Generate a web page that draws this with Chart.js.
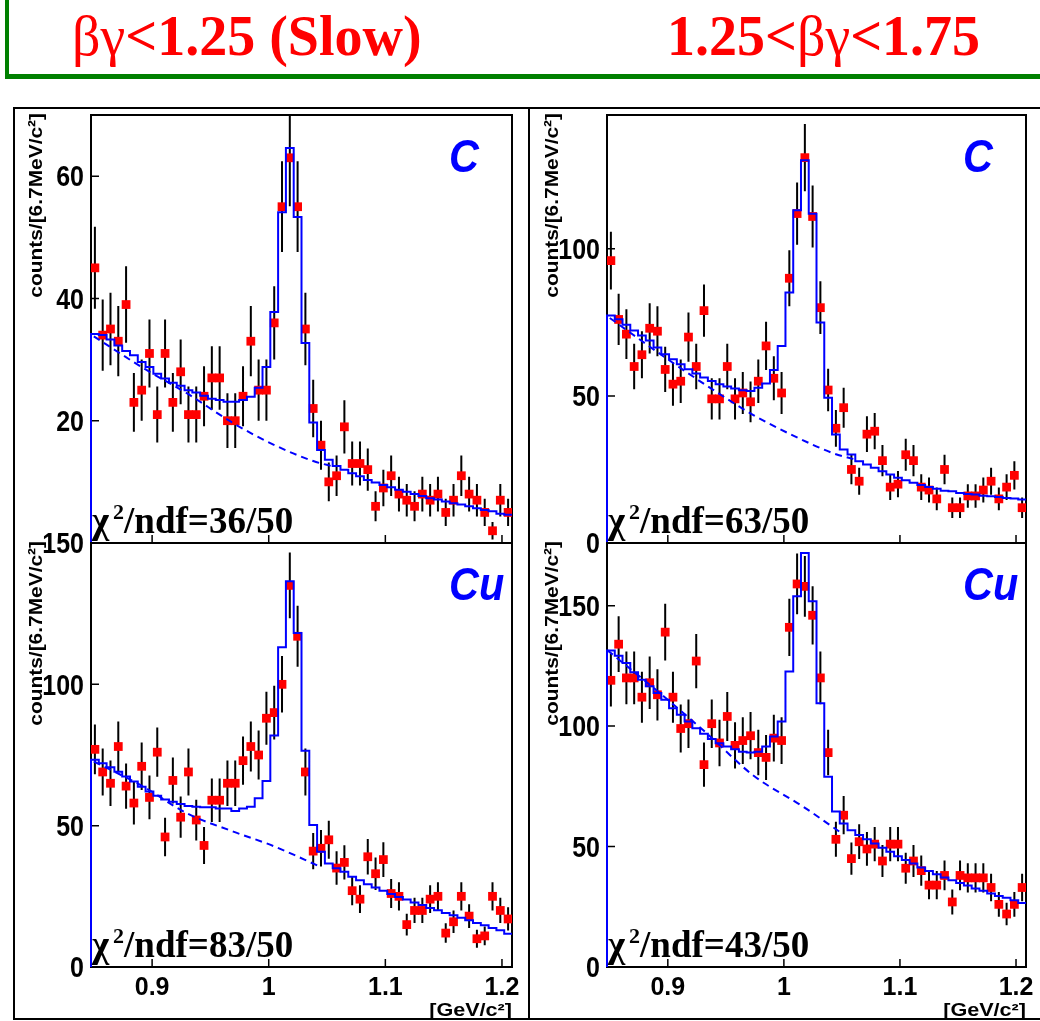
<!DOCTYPE html>
<html>
<head>
<meta charset="utf-8">
<script src="https://cdn.jsdelivr.net/npm/chart.js@4.4.1/dist/chart.umd.min.js"></script>
<style>
  body { margin: 0; width: 1040px; height: 1021px; background: #fff; position: relative; overflow: hidden; }
  canvas { position: absolute; }
  .header { position: absolute; left: 5px; top: -2px; width: 1100px; height: 81px; box-sizing: border-box;
            border: 4px solid #008000; border-top: 2px solid #a9d4a9; border-bottom-width: 5px; }
  .bin-title { position: absolute; top: 8px; font: bold 56px/56px 'Liberation Serif', 'Times New Roman', serif;
               color: #ff0000; white-space: nowrap; }
  .bin-title .sym { font-weight: normal; }
  .frame { position: absolute; left: 13px; top: 107px; width: 1100px; height: 913px; box-sizing: border-box; border: 2px solid #000; }
  .divider { position: absolute; left: 528px; top: 107px; width: 2px; height: 913px; background: #000; }
</style>
</head>
<body>
<div class="header"></div>
<div class="bin-title" style="left:72px"><span class="sym">βγ</span>&lt;1.25 (Slow)</div>
<div class="bin-title" style="left:667px">1.25&lt;<span class="sym">βγ</span>&lt;1.75</div>

<canvas id="padSlowC" width="514" height="450" style="left:14px; top:108px"></canvas>
<canvas id="padMidC" width="510" height="450" style="left:530px; top:108px"></canvas>
<canvas id="padSlowCu" width="514" height="500" style="left:14px; top:520px"></canvas>
<canvas id="padMidCu" width="510" height="500" style="left:530px; top:520px"></canvas>

<div class="frame"></div>
<div class="divider"></div>

<script>
// K+K- invariant mass, 54 bins of 6.7 MeV/c^2
const X_MIN = 0.8476, X_MAX = 1.2086, N_BINS = 54;
const BIN_W = (X_MAX - X_MIN) / N_BINS;
const binEdges = Array.from({length: N_BINS + 1}, (_, k) => X_MIN + k * BIN_W);
const binCenters = binEdges.slice(0, N_BINS).map(e => e + BIN_W / 2);

const xTicks = [0.9, 1, 1.1, 1.2];
const xTickLabels = ['0.9', '1', '1.1', '1.2'];

// bg < 1.25, carbon target
const countsSlowC = [45, 34, 35, 33, 39, 23, 25, 31, 21, 31, 23, 28, 21, 21, 24, 27, 27, 20, 20, 24,
  33, 25, 25, 36, 55, 63, 55, 35, 22, 16, 10, 11, 19, 13, 13, 12, 6, 9, 11, 8,
  7, 6, 8, 7, 8, 5, 7, 11, 8, 7, 5, 2, 7, 5];
const fitSlowC = [34.2, 34.0, 33.3, 32.3, 31.4, 30.7, 29.6, 28.8, 27.7, 26.9, 26.2, 25.7, 25.0, 24.6, 24.1, 23.6, 23.4, 23.1, 23.1, 23.4,
  23.9, 25.4, 28.8, 37.8, 54.1, 64.6, 53.3, 32.7, 19.7, 15.2, 13.6, 12.6, 12.0, 11.4, 10.9, 10.3, 9.9, 9.5, 9.1, 8.7,
  8.4, 8.0, 7.7, 7.3, 7.1, 6.8, 6.5, 6.3, 6.0, 5.7, 5.4, 5.2, 4.8, 4.6];
const bgMassSlowC = [0.8500, 0.8925, 0.9297, 0.9696, 1.0040, 1.0382, 1.0554];
const bgSlowC = [33.8, 28.6, 24.5, 19.6, 16.1, 13.4, 12.5];
const yTicksSlowC = [20, 40, 60];

// 1.25 < bg < 1.75, carbon target
const countsMidC = [96, 76, 71, 60, 64, 73, 72, 59, 54, 55, 70, 60, 79, 49, 49, 60, 49, 51, 48, 55,
  67, 56, 51, 90, 112, 131, 111, 80, 52, 39, 46, 25, 21, 37, 38, 28, 19, 20, 30, 28,
  19, 18, 15, 25, 12, 12, 16, 16, 18, 21, 15, 19, 23, 12];
const fitMidC = [77.3, 76.1, 74.2, 72.2, 70.5, 68.8, 66.5, 64.2, 62.5, 60.8, 59.1, 57.6, 56.3, 55.1, 54.0, 53.2, 52.5, 51.9, 51.7, 52.8,
  54.2, 58.8, 67.0, 85.2, 113.1, 130.1, 111.9, 75.0, 49.4, 36.9, 31.8, 30.1, 27.8, 26.7, 25.6, 24.4, 23.3, 22.2, 21.3, 20.5,
  19.7, 19.0, 18.4, 17.8, 17.6, 17.0, 16.7, 16.5, 16.1, 15.9, 15.6, 15.3, 15.1, 14.8];
const bgMassMidC = [0.8500, 0.8961, 0.9335, 0.9737, 1.0081, 1.0426, 1.0598];
const bgMidC = [76.5, 63.5, 53.5, 43.5, 36.5, 30.5, 28.5];
const yTicksMidC = [0, 50, 100];

// bg < 1.25, copper target
const countsSlowCu = [77, 69, 65, 78, 64, 58, 71, 60, 76, 46, 66, 53, 69, 52, 43, 59, 59, 65, 65, 73,
  78, 75, 88, 90, 100, 135, 117, 69, 41, 42, 45, 35, 37, 27, 24, 39, 33, 38, 26, 25,
  15, 20, 20, 24, 25, 12, 16, 25, 18, 10, 11, 25, 20, 17];
const fitSlowCu = [73.3, 72.1, 70.7, 69.1, 67.4, 65.6, 63.8, 62.1, 60.6, 59.3, 58.5, 57.7, 57.0, 56.7, 56.5, 56.5, 56.1, 56.1, 55.2, 56.1,
  56.7, 59.7, 65.8, 81.9, 113.1, 136.5, 118.2, 76.5, 50.2, 40.8, 36.6, 34.9, 33.7, 31.9, 30.7, 29.3, 28.1, 27.0, 25.8, 24.8,
  23.9, 22.8, 21.9, 20.9, 20.1, 19.1, 18.3, 17.4, 16.5, 15.6, 14.8, 13.8, 13.0, 11.8];
const bgMassSlowCu = [0.8500, 0.8925, 0.9297, 0.9696, 1.0040, 1.0440];
const bgSlowCu = [72.7, 63.8, 54.4, 47.9, 42.8, 35.5];
const yTicksSlowCu = [0, 50, 100, 150];

// 1.25 < bg < 1.75, copper target
const countsMidCu = [119, 134, 120, 120, 112, 118, 113, 139, 112, 99, 101, 127, 84, 101, 93, 104, 92, 94, 96, 89,
  87, 95, 94, 141, 159, 158, 146, 120, 89, 53, 63, 45, 52, 49, 51, 44, 51, 51, 41, 44,
  40, 34, 34, 38, 27, 38, 37, 37, 37, 33, 26, 22, 26, 33];
const fitMidCu = [131.4, 129.2, 126.2, 122.3, 119.2, 116.5, 113.7, 110.9, 107.4, 104.7, 101.9, 99.1, 96.8, 94.6, 92.9, 91.5, 90.4, 89.4, 89.0, 89.4,
  91.5, 95.7, 101.9, 122.7, 153.9, 171.9, 151.8, 109.5, 79.0, 64.5, 59.6, 56.8, 54.8, 53.0, 51.3, 49.5, 47.8, 46.0, 44.4, 43.0,
  41.3, 39.9, 38.5, 37.2, 36.0, 34.9, 33.8, 32.6, 31.6, 30.5, 29.5, 28.7, 27.7, 26.6];
const bgMassMidCu = [0.8479, 0.8961, 0.9335, 0.9737, 1.0168, 1.0484];
const bgMidCu = [131.5, 112.5, 97.0, 79.5, 66.5, 56.0];
const yTicksMidCu = [0, 50, 100, 150];

const pads = {
  padSlowC:  {counts: countsSlowC, fit: fitSlowC, bgMass: bgMassSlowC, bg: bgSlowC, yMax: 70, yTicks: yTicksSlowC,
              chi: '36/50', target: 'C', xLabels: false, padding: {left: 77, top: 7, right: 16, bottom: 15}},
  padMidC:   {counts: countsMidC, fit: fitMidC, bgMass: bgMassMidC, bg: bgMidC, yMax: 145.5, yTicks: yTicksMidC,
              chi: '63/50', target: 'C', xLabels: false, padding: {left: 77, top: 7, right: 14, bottom: 15}},
  padSlowCu: {counts: countsSlowCu, fit: fitSlowCu, bgMass: bgMassSlowCu, bg: bgSlowCu, yMax: 150, yTicks: yTicksSlowCu,
              chi: '83/50', target: 'Cu', xLabels: true, padding: {left: 77, top: 23, right: 16, bottom: 53}},
  padMidCu:  {counts: countsMidCu, fit: fitMidCu, bgMass: bgMassMidCu, bg: bgMidCu, yMax: 176, yTicks: yTicksMidCu,
              chi: '43/50', target: 'Cu', xLabels: true, padding: {left: 77, top: 23, right: 14, bottom: 53}}
};

const SANS = '"Liberation Sans", Arial, sans-serif';
const SERIF = '"Liberation Serif", "Times New Roman", serif';

// ROOT-like frame, inner ticks, error bars and the pad texts
const rootPad = {
  id: 'rootPad',
  beforeDatasetsDraw(chart) {
    const p = pads[chart.canvas.id];
    const {ctx, chartArea: a, scales: {x, y}} = chart;
    ctx.save();
    ctx.strokeStyle = '#000';
    ctx.lineWidth = 2;
    ctx.strokeRect(a.left, a.top, a.width, a.height);
    ctx.lineWidth = 1.5;
    ctx.beginPath();
    xTicks.forEach(t => {
      const px = x.getPixelForValue(t);
      ctx.moveTo(px, a.bottom);
      ctx.lineTo(px, a.bottom - 8);
    });
    p.yTicks.forEach(t => {
      const py = y.getPixelForValue(t);
      ctx.moveTo(a.left, py);
      ctx.lineTo(a.left + 8, py);
    });
    ctx.stroke();

    // poisson error bars
    ctx.beginPath();
    ctx.rect(a.left, a.top, a.width, a.height);
    ctx.clip();
    ctx.lineWidth = 2;
    ctx.beginPath();
    p.counts.forEach((n, i) => {
      const px = x.getPixelForValue(binCenters[i]);
      const err = Math.sqrt(n);
      ctx.moveTo(px, y.getPixelForValue(n - err));
      ctx.lineTo(px, y.getPixelForValue(n + err));
    });
    ctx.stroke();
    ctx.restore();
  },
  afterDraw(chart) {
    const p = pads[chart.canvas.id];
    const {ctx, chartArea: a, scales: {x, y}} = chart;
    ctx.save();
    ctx.fillStyle = '#000';
    ctx.textBaseline = 'alphabetic';

    ctx.font = 'bold 25px ' + SANS;
    ctx.textAlign = 'right';
    p.yTicks.forEach(t => {
      ctx.save();
      ctx.translate(a.left - 7, y.getPixelForValue(t));
      ctx.scale(1, 1.15);
      ctx.fillText(String(t), 0, 9);
      ctx.restore();
    });

    if (p.xLabels) {
      ctx.textAlign = 'center';
      xTicks.forEach((t, i) => ctx.fillText(xTickLabels[i], x.getPixelForValue(t), a.bottom + 28));
      ctx.save();
      ctx.translate(a.right, a.bottom + 49);
      ctx.scale(1.2, 1);
      ctx.font = 'bold 18px ' + SANS;
      ctx.textAlign = 'right';
      ctx.fillText('[GeV/c²]', 0, 0);
      ctx.restore();
    }

    // y title
    ctx.save();
    ctx.translate(a.left - 49, a.top - 2);
    ctx.rotate(-Math.PI / 2);
    ctx.scale(1.1, 1);
    ctx.font = 'bold 19px ' + SANS;
    ctx.textAlign = 'right';
    ctx.fillText('counts/[6.7MeV/c²]', 0, 0);
    ctx.restore();

    // chi2 / ndf
    ctx.textAlign = 'left';
    let cx = a.left + 1;
    const cy = a.bottom - 10;
    ctx.font = 'bold 37px ' + SERIF;
    ctx.fillText('χ', cx, cy);
    cx += ctx.measureText('χ').width + 4;
    ctx.font = 'bold 22px ' + SERIF;
    ctx.fillText('2', cx, cy - 14);
    cx += ctx.measureText('2').width;
    ctx.font = 'bold 37px ' + SERIF;
    ctx.fillText('/ndf=' + p.chi, cx, cy);

    // target
    ctx.fillStyle = '#0000ff';
    ctx.font = 'italic bold 46px ' + SANS;
    ctx.translate(a.right - 63, a.top + 57);
    ctx.scale(0.9, 1);
    ctx.fillText(p.target, 0, 0);
    ctx.restore();
  }
};
Chart.register(rootPad);

function drawPad(id) {
  const p = pads[id];
  const fitLine = [{x: X_MIN, y: 0}]
    .concat(p.fit.map((v, k) => ({x: binEdges[k], y: v})))
    .concat([{x: X_MAX, y: p.fit[N_BINS - 1]}]);
  new Chart(document.getElementById(id), {
    type: 'line',
    data: {
      datasets: [
        {
          label: 'fit',
          data: fitLine,
          stepped: 'before',
          borderColor: '#0000ff',
          borderWidth: 2,
          pointRadius: 0,
          fill: false,
          clip: {left: 2, top: 0, right: 0, bottom: 2},
          order: 1
        },
        {
          label: 'background',
          data: p.bgMass.map((m, i) => ({x: m, y: p.bg[i]})),
          borderColor: '#0000ff',
          borderWidth: 2,
          borderDash: [7, 5],
          tension: 0.4,
          cubicInterpolationMode: 'monotone',
          pointRadius: 0,
          fill: false,
          order: 2
        },
        {
          label: 'data',
          data: binCenters.map((m, i) => ({x: m, y: p.counts[i]})),
          showLine: false,
          pointStyle: 'rect',
          pointRadius: 6.2,
          pointBackgroundColor: '#ff0000',
          pointBorderWidth: 0,
          clip: 0,
          order: 3
        }
      ]
    },
    options: {
      responsive: false,
      animation: false,
      devicePixelRatio: 1,
      events: [],
      layout: {padding: p.padding},
      scales: {
        x: {type: 'linear', min: X_MIN, max: X_MAX, display: false},
        y: {min: 0, max: p.yMax, display: false}
      },
      plugins: {
        legend: {display: false},
        tooltip: {enabled: false}
      }
    }
  });
}

Object.keys(pads).forEach(drawPad);
</script>
</body>
</html>
